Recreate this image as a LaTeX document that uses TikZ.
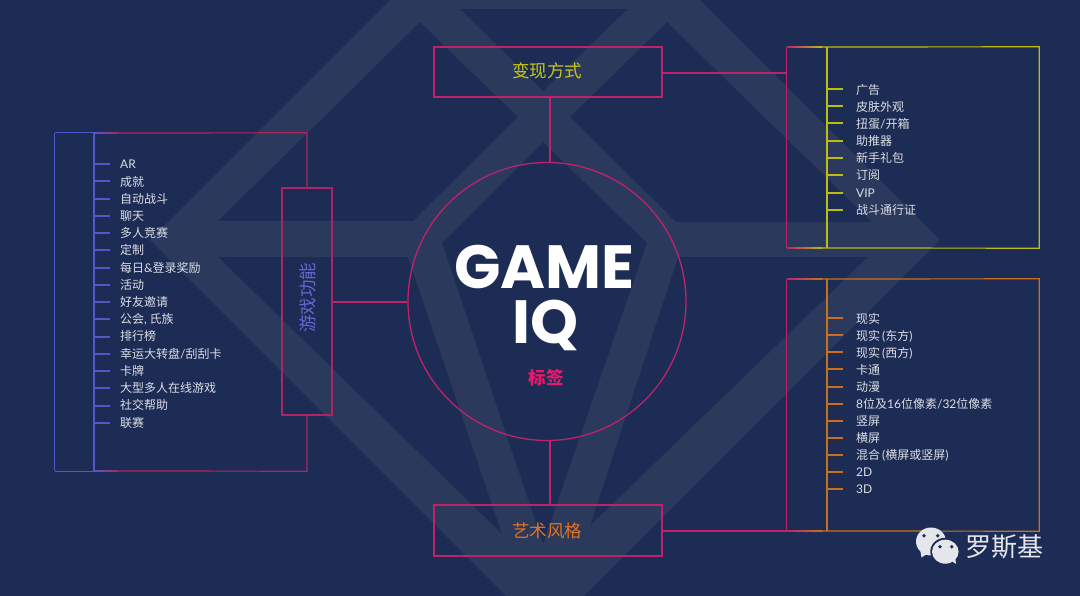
\documentclass[tikz,border=0pt]{standalone}
\usepackage{fontspec}
\setmainfont{Noto Sans CJK SC}
\newfontfamily\lat{Lato}
\newfontfamily\pop{Poppins}[BoldFont={Poppins Bold}]
\definecolor{bgc}{HTML}{1D2C54}
\definecolor{bandc}{HTML}{2A395C}
\definecolor{crim}{HTML}{C0226A}
\definecolor{crimb}{HTML}{AE2562}
\definecolor{blu}{HTML}{5158CC}
\definecolor{yel}{HTML}{BDBD10}
\definecolor{ora}{HTML}{C8701E}
\definecolor{itemc}{HTML}{DCDEE6}
\tikzset{
  x=1pt,y=-1pt,
  ln/.style={line width=1.2pt},
  tick/.style={line width=1.1pt},
  itemtxt/.style={anchor=west,inner sep=0pt,text=itemc,font=\fontsize{12}{12}\selectfont,text height=11pt,text depth=1pt},
  itemtxtb/.style={itemtxt,text height=12pt,text depth=.5pt},
  hubbox/.style={draw=crim,line width=1.2pt,inner sep=0pt,rectangle},
  areaframe/.style={draw=none,inner sep=0pt,rectangle},
  bigtxt/.style={inner sep=0pt,text=white,text height=42pt,text depth=2pt,font=\pop\bfseries\fontsize{61}{61}\selectfont},
}
\begin{document}
\begin{tikzpicture}
\useasboundingbox (0,0) rectangle (1080,596);
\fill[bgc] (0,0) rectangle (1080,596);
% watermark logo
\begin{scope}
\clip (0,0) rectangle (1080,596);
\fill[bandc,even odd rule]
  (150,240) -- (545,-155) -- (940,240) -- (545,635) -- cycle
  (218,221) -- (420,22) -- (518,117) -- (413,221) -- cycle
  (460,9) -- (628,9) -- (543,91) -- cycle
  (667,22) -- (872,222) -- (676,222) -- (570,117) -- cycle
  (442,243) -- (543,142) -- (647,243) -- (543,544) -- cycle
  (218,257) -- (408,257) -- (502,534) -- cycle
  (868,257) -- (678,257) -- (590,526) -- cycle;
\end{scope}

% central circle and hub boxes
\node[draw=crim,line width=1.3pt,circle,minimum size=278pt,inner sep=0pt] (hub) at (547,301.5) {};
\node[hubbox,minimum width=228pt,minimum height=50pt] (tbox) at (548,72) {};
\node[hubbox,minimum width=228pt,minimum height=51pt] (bbox) at (548,530.5) {};
\node[hubbox,draw=crimb,minimum width=50pt,minimum height=227pt] (lbox) at (307,301.5) {};
\node[inner sep=0pt,text={rgb,255:red,200;green,200;blue,20},font=\fontsize{17.5}{18}\selectfont] at (547,71) {变现方式};
\node[inner sep=0pt,text={rgb,255:red,226;green,116;blue,30},font=\fontsize{17.5}{18}\selectfont] at (547,531) {艺术风格};
\node[inner sep=0pt,rotate=90,text=blu!90!white,font=\fontsize{17.5}{18}\selectfont] at (307.5,298) {游戏功能};
\node[bigtxt] (g1) at (544.3,268.5) {GAME};
\node[bigtxt] (g2) at (545.5,323.5) {IQ};
\node[inner sep=0pt,text={rgb,255:red,232;green,24;blue,106},font=\bfseries\fontsize{17.5}{18}\selectfont] (g3) at (546,378) {标签};

% area frames
\node[areaframe,minimum width=252pt,minimum height=338pt] (lf) at (181,302) {};
\node[areaframe,minimum width=252pt,minimum height=201pt] (rt) at (913,147.5) {};
\node[areaframe,minimum width=252pt,minimum height=252pt] (rb) at (913,405) {};
\coordinate (ls) at (94,133);
\coordinate (ts) at (827,47);
\coordinate (bs) at (827,279);

% left frame
\draw[ln,blu] (lf.north west) -- (lf.south west);
\draw[ln,blu] (lf.north west) -- (ls |- lf.north);
\draw[ln,blu] (lf.south west) -- (ls |- lf.south);
\draw[ln,blu] (ls |- lf.north) -- (ls |- lf.south);
\shade[left color=blu,right color=crimb] (94,132.4) rectangle (118,133.6);
\shade[left color=blu,right color=crimb] (94,470.4) rectangle (118,471.6);
\draw[ln,crimb] (118,133) -- (lf.north -| lbox.north) -- (lbox.north);
\draw[ln,crimb] (118,471) -- (lf.south -| lbox.south) -- (lbox.south);

% top right frame
\draw[ln,crim] (rt.north west) -- (rt.south west);
\shade[left color=crim,right color=yel] (787,46.4) rectangle (822,47.6);
\shade[left color=crim,right color=yel] (787,247.4) rectangle (822,248.6);
\draw[ln,yel] (822,47) -- (rt.north east) -- (rt.south east) -- (822,248);
\draw[ln,yel] (ts |- rt.north) -- (ts |- rt.south);

% bottom right frame
\draw[ln,crim] (rb.north west) -- (rb.south west);
\shade[left color=crim,right color=ora] (787,278.4) rectangle (822,279.6);
\shade[left color=crim,right color=ora] (787,530.4) rectangle (822,531.6);
\draw[ln,ora] (822,279) -- (rb.north east) -- (rb.south east) -- (822,531);
\draw[ln,ora] (bs |- rb.north) -- (bs |- rb.south);

% connectors
\draw[ln,crim] ([xshift=2pt]tbox.south) -- ([xshift=2pt]hub.north -| tbox.south);
\draw[ln,crim] ([xshift=2pt]bbox.north) -- ([xshift=2pt]hub.south -| bbox.north);
\draw[ln,crim] ([yshift=-.5pt]lbox.east) -- ([yshift=-.5pt]lbox.east -| hub.west);
\draw[ln,crim] ([yshift=-1pt]tbox.east) -- ([yshift=-1pt]tbox.east -| rt.west);
\draw[ln,crim] ([yshift=-.5pt]bbox.east) -- ([yshift=-.5pt]bbox.east -| rb.west);

% lists
\foreach \t [count=\i from 0] in {{\lat AR},成就,自动战斗,聊天,多人竞赛,定制,{每日{\lat\&}登录奖励},活动,好友邀请,{公会{\lat,} 氏族},排行榜,{幸运大转盘{\lat/}刮刮卡},卡牌,大型多人在线游戏,社交帮助,联赛}{
  \pgfmathsetmacro\yy{164+17.2*\i}
  \pgfmathsetmacro\ys{round(164+17.25*\i)}
  \node[itemtxt] (L\i) at (120,\yy) {\t};
  \coordinate (LT\i) at (94,\ys);
  \draw[tick,blu] (LT\i) -- ++(16,0);
}
\foreach \t [count=\i from 0] in {广告,皮肤外观,{扭蛋{\lat/}开箱},助推器,新手礼包,订阅,{\lat VIP},战斗通行证}{
  \pgfmathsetmacro\yy{88.7+17.1*\i}
  \pgfmathsetmacro\ys{round(88.7+17.3*\i)}
  \node[itemtxtb] (T\i) at (856,\yy) {\t};
  \coordinate (TT\i) at (827,\ys);
  \draw[tick,yel] (TT\i) -- ++(16,0);
}
\foreach \t [count=\i from 0] in {现实,{现实\,{\lat(}东方{\lat)}},{现实\,{\lat(}西方{\lat)}},卡通,动漫,{{\lat 8}位及{\lat 16}位像素{\lat/32}位像素},竖屏,横屏,{混合\,{\lat(}横屏或竖屏{\lat)}},{\lat 2D},{\lat 3D}}{
  \pgfmathsetmacro\yy{318+17.0*\i}
  \pgfmathsetmacro\ys{round(318+17.13*\i)}
  \node[itemtxtb] (B\i) at (856,\yy) {\t};
  \coordinate (BT\i) at (827,\ys);
  \draw[tick,ora] (BT\i) -- ++(16,0);
}

% WeChat mark
\definecolor{wm}{HTML}{E4E6EC}
\fill[wm] (931,541.5) ellipse [x radius=15,y radius=14];
\fill[wm] (920,549) -- (921.5,557.5) -- (930,552) -- cycle;
\fill[bgc] (945.3,551.7) ellipse [x radius=15,y radius=14];
\fill[wm] (945.3,551.7) ellipse [x radius=13.3,y radius=12];
\fill[wm] (950,560) -- (956,564) -- (955,556) -- cycle;
\foreach \p in {(924,535.7),(937.7,535.7),(940,546.7),(951.7,546.7)}{\fill[bgc] \p circle (1.9);}
\node[inner sep=0pt,text=wm,font=\fontsize{26}{26}\selectfont] (wmt) at (1004.5,547) {罗斯基};
\end{tikzpicture}
\end{document}
